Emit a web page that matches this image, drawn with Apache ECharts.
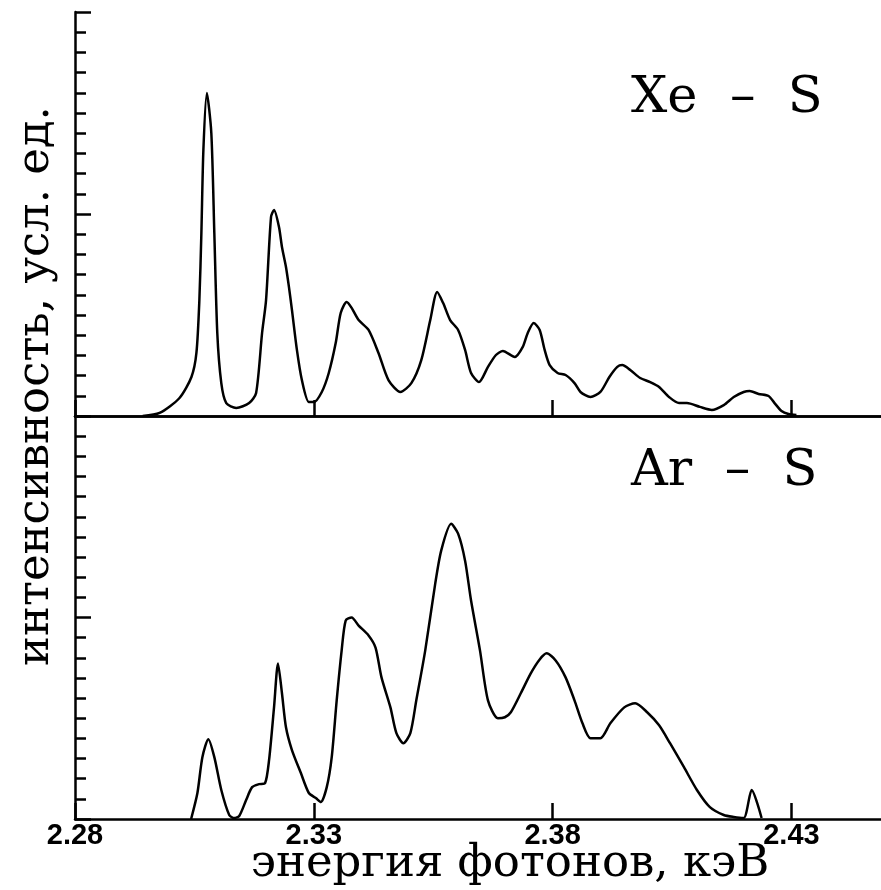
<!DOCTYPE html>
<html><head><meta charset="utf-8">
<script src="https://cdn.jsdelivr.net/npm/echarts@6/dist/echarts.min.js"></script>
<style>html,body{margin:0;padding:0;background:#fff}#c{width:881px;height:890px}</style>
</head><body><div id="c"></div>
<script>
// Xe - S spectrum (upper panel)
const xeEnergy = [2.29417,2.29771,2.30188,2.30438,2.30542,2.30604,2.30646,2.30688,2.30760,2.30854,2.30917,2.30979,2.31063,2.31167,2.31375,2.31646,2.31792,2.31917,2.32000,2.32104,2.32167,2.32271,2.32333,2.32417,2.32479,2.32542,2.32646,2.32750,2.32896,2.33000,2.33167,2.33313,2.33458,2.33563,2.33688,2.33792,2.33938,2.34146,2.34354,2.34563,2.34813,2.35042,2.35250,2.35438,2.35583,2.35708,2.35854,2.36021,2.36167,2.36292,2.36458,2.36646,2.36813,2.36958,2.37208,2.37375,2.37479,2.37604,2.37729,2.37833,2.37938,2.38104,2.38271,2.38458,2.38583,2.38792,2.39000,2.39188,2.39354,2.39458,2.39625,2.39833,2.40042,2.40229,2.40438,2.40646,2.40813,2.41083,2.41333,2.41583,2.41792,2.42000,2.42125,2.42313,2.42521,2.42646,2.42792,2.42938,2.43104];
const xeIntensity = [0,0.15,0.89,1.93,3.12,5.74,9.06,13.17,15.99,14.01,9.06,4.11,1.63,0.64,0.40,0.64,1.14,4.11,5.74,9.85,10.20,9.36,8.37,7.38,6.39,5.25,3.27,1.78,0.69,0.69,1.19,2.13,3.61,5.10,5.64,5.35,4.75,4.26,3.12,1.78,1.19,1.63,2.77,4.75,6.14,5.59,4.75,4.26,3.27,2.13,1.68,2.43,3.02,3.22,2.92,3.42,4.11,4.60,4.26,3.27,2.52,2.13,2.03,1.63,1.19,0.94,1.19,1.93,2.43,2.52,2.28,1.88,1.68,1.44,0.94,0.64,0.64,0.45,0.30,0.54,0.94,1.19,1.24,1.09,0.99,0.64,0.25,0.10,0.05];

// Ar - S spectrum (lower panel)
const arEnergy = [2.30431,2.30563,2.30667,2.30792,2.30917,2.31063,2.31229,2.31333,2.31438,2.31583,2.31708,2.31854,2.31979,2.32063,2.32167,2.32250,2.32333,2.32417,2.32542,2.32729,2.32896,2.33042,2.33146,2.33271,2.33375,2.33479,2.33583,2.33667,2.33792,2.33938,2.34146,2.34292,2.34417,2.34604,2.34729,2.34875,2.35021,2.35146,2.35333,2.35542,2.35667,2.35875,2.36021,2.36167,2.36292,2.36479,2.36646,2.36854,2.37000,2.37125,2.37333,2.37542,2.37729,2.37875,2.38063,2.38271,2.38458,2.38625,2.38792,2.39000,2.39208,2.39500,2.39729,2.39979,2.40229,2.40458,2.40750,2.41021,2.41292,2.41583,2.41792,2.42000,2.42167,2.42375];
const arIntensity = [0,1.29,3.07,3.96,3.07,1.44,0.20,0.05,0.15,0.94,1.58,1.73,1.78,2.92,5.54,7.72,6.24,4.55,3.42,2.28,1.29,1.04,0.84,1.58,3.07,5.89,8.37,9.85,10.00,9.60,9.11,8.51,7.03,5.54,4.26,3.76,4.26,5.89,8.37,11.68,13.32,14.65,14.16,12.82,10.84,8.37,5.89,5.00,5.05,5.30,6.24,7.23,7.92,8.22,7.87,7.03,5.89,4.75,4.01,4.01,4.75,5.54,5.74,5.30,4.65,3.76,2.57,1.44,0.59,0.20,0.10,0.05,1.44,0.05];

const xMin = 2.28, xMax = 2.44875;
const xTicks = [2.28, 2.33, 2.38, 2.43];
const yMin = 0, yMax = 20;
const xTitle = 'энергия фотонов, кэВ';
const yTitle = 'интенсивность, усл. ед.';
const panelLabels = ['Xe  –  S', 'Ar  –  S'];

const BLACK = '#000';
const LW = 2.5;
const zip = (a, b) => a.map((v, i) => [v, b[i]]);

function xAx(gridIndex, showLabel) {
  return {
    type: 'value', gridIndex, min: xMin, max: xMax, position: 'bottom',
    axisLine: { show: true, onZero: false, lineStyle: { color: BLACK, width: LW } },
    axisTick: { show: true, inside: true, length: 16, customValues: xTicks, lineStyle: { color: BLACK, width: LW } },
    axisLabel: { show: showLabel, customValues: xTicks, formatter: v => Number(v).toFixed(2),
      fontSize: 29, fontWeight: 'bold', color: BLACK, fontFamily: 'Liberation Sans', margin: 2 },
    splitLine: { show: false }
  };
}
function yAx(gridIndex) {
  return {
    type: 'value', gridIndex, min: yMin, max: yMax, interval: 10,
    axisLine: { show: true, onZero: false, lineStyle: { color: BLACK, width: LW } },
    axisTick: { show: true, inside: true, length: 16, lineStyle: { color: BLACK, width: LW } },
    minorTick: { show: true, splitNumber: 10, length: 11, lineStyle: { color: BLACK, width: LW } },
    axisLabel: { show: false }, splitLine: { show: false }
  };
}

const chart = echarts.init(document.getElementById('c'), null, { renderer: 'canvas' });
const serif = '"DejaVu Serif", serif';
chart.setOption({
  animation: false,
  backgroundColor: '#fff',
  grid: [
    { left: 75, top: 12, width: 810, height: 404 },
    { left: 75, top: 416, width: 810, height: 403 }
  ],
  xAxis: [
    xAx(0, false),
    xAx(1, true),
    { type: 'value', gridIndex: 0, min: xMin, max: xMax, position: 'top',
      axisLine: { show: true, lineStyle: { color: BLACK, width: LW } },
      axisTick: { show: false }, axisLabel: { show: false }, splitLine: { show: false } }
  ],
  yAxis: [yAx(0), yAx(1)],
  series: [
    { type: 'line', xAxisIndex: 0, yAxisIndex: 0, data: zip(xeEnergy, xeIntensity),
      showSymbol: false, smooth: 0.25, lineStyle: { color: BLACK, width: LW } },
    { type: 'line', xAxisIndex: 1, yAxisIndex: 1, data: zip(arEnergy, arIntensity),
      showSymbol: false, smooth: 0.25, lineStyle: { color: BLACK, width: LW } }
  ],
  graphic: [
    { type: 'text', x: 510, y: 864, style: { text: xTitle, font: '45px ' + serif, fill: BLACK, textAlign: 'center', textVerticalAlign: 'middle' } },
    { type: 'text', x: 36, y: 386, rotation: Math.PI / 2, style: { text: yTitle, font: '45px ' + serif, fill: BLACK, textAlign: 'center', textVerticalAlign: 'middle' } },
    { type: 'text', x: 631, y: 99, style: { text: panelLabels[0], font: '51px ' + serif, fill: BLACK, textAlign: 'left', textVerticalAlign: 'middle' } },
    { type: 'text', x: 631, y: 472, style: { text: panelLabels[1], font: '51px ' + serif, fill: BLACK, textAlign: 'left', textVerticalAlign: 'middle' } }
  ]
});
</script></body></html>
